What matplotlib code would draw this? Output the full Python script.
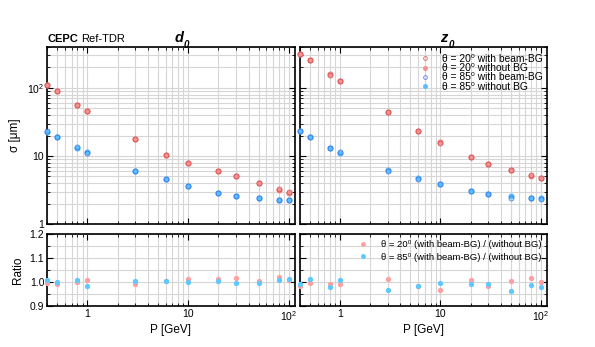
import numpy as np
import matplotlib
matplotlib.use('Agg')
import matplotlib.pyplot as plt
from matplotlib.ticker import FixedLocator, FixedFormatter, NullFormatter, LogLocator, MultipleLocator

# momentum points [GeV]
p = [0.4, 0.5, 0.8, 1, 3, 6, 10, 20, 30, 50, 80, 100]

# d0 resolution [um]
d0_20_bg = [110, 89, 56, 46, 17.6, 10.5, 7.9, 6.1, 5.1, 4.0, 3.26, 2.91]
d0_20_nobg = [110, 89.5, 56, 45.5, 17.7, 10.45, 7.8, 6.0, 5.0, 3.98, 3.2, 2.89]
d0_85_bg = [23, 19.2, 13.4, 11.2, 6.07, 4.6, 3.64, 2.85, 2.55, 2.38, 2.28, 2.25]
d0_85_nobg = [22.8, 19.2, 13.3, 11.4, 6.05, 4.58, 3.64, 2.84, 2.56, 2.39, 2.26, 2.22]

# z0 resolution [um]
z0_20_bg = [314, 255, 157, 126, 44.9, 23, 15.4, 9.7, 7.5, 6.2, 5.2, 4.75]
z0_20_nobg = [320, 256, 158, 127, 44.3, 23.4, 15.9, 9.6, 7.6, 6.17, 5.12, 4.75]
z0_85_bg = [23.3, 19.2, 12.9, 11.3, 6.0, 4.6, 3.85, 3.04, 2.75, 2.45, 2.4, 2.33]
z0_85_nobg = [23.5, 18.95, 13.2, 11.2, 6.2, 4.68, 3.86, 3.07, 2.78, 2.55, 2.43, 2.38]

# ratios (with beam-BG) / (without BG)
d0_ratio_20 = [0.995, 0.992, 0.999, 1.010, 0.992, 1.004, 1.011, 1.013, 1.017, 1.004, 1.021, 1.008]
d0_ratio_85 = [1.007, 1.001, 1.007, 0.983, 1.003, 1.004, 0.999, 1.003, 0.995, 0.996, 1.007, 1.014]
z0_ratio_20 = [0.983, 0.996, 0.992, 0.990, 1.013, 0.982, 0.967, 1.008, 0.982, 1.005, 1.015, 1.001]
z0_ratio_85 = [0.990, 1.013, 0.978, 1.007, 0.967, 0.982, 0.997, 0.990, 0.990, 0.962, 0.987, 0.980]

plt.rcParams['font.family'] = ['Liberation Sans', 'DejaVu Sans']
plt.rcParams['mathtext.fontset'] = 'custom'
plt.rcParams['mathtext.rm'] = 'Liberation Sans'
plt.rcParams['mathtext.it'] = 'Liberation Sans:italic'
plt.rcParams['mathtext.bf'] = 'Liberation Sans:bold'

fig = plt.figure(figsize=(5.95, 3.47), dpi=100)

W = 595.0
H = 347.0
def ax_at(x0, y0, x1, y1):
    return fig.add_axes([x0 / W, 1 - y1 / H, (x1 - x0) / W, (y1 - y0) / H])

ax_d0 = ax_at(47, 47, 295, 224)
ax_z0 = ax_at(300, 47, 547, 224)
ax_d0r = ax_at(47, 234, 295, 306)
ax_z0r = ax_at(300, 234, 547, 306)

red_edge = '#cc3a3a'
red_fill = '#f39090'
blue_edge = '#2a62e0'
blue_fill = '#5cbcff'
r_red = '#ffa0a0'
r_blue = '#5fc8ff'

xlim = (0.4, 115)
grid_kw = dict(color='#d6d6d6', linewidth=0.8)

def style_axes(ax, logy):
    ax.set_xscale('log')
    ax.set_xlim(*xlim)
    if logy:
        ax.set_yscale('log')
        ax.set_ylim(1, 400)
        ax.yaxis.set_major_locator(FixedLocator([1, 10, 100]))
        ax.yaxis.set_minor_locator(LogLocator(base=10, subs=np.arange(2, 10)))
        ax.yaxis.set_minor_formatter(NullFormatter())
    else:
        ax.set_ylim(0.9, 1.2)
        ax.yaxis.set_major_locator(MultipleLocator(0.1))
        ax.yaxis.set_minor_locator(MultipleLocator(0.05))
    ax.xaxis.set_major_locator(FixedLocator([1, 10, 100]))
    ax.xaxis.set_minor_locator(LogLocator(base=10, subs=np.arange(2, 10)))
    ax.xaxis.set_minor_formatter(NullFormatter())
    ax.grid(True, which='both', **grid_kw)
    ax.set_axisbelow(True)
    ax.tick_params(which='both', direction='in', top=True, right=True, labelsize=7.5, pad=2)
    ax.tick_params(which='major', length=4, width=0.8)
    ax.tick_params(which='minor', length=2.5, width=0.6)
    for s in ax.spines.values():
        s.set_linewidth(1.2)

for ax in (ax_d0, ax_z0):
    style_axes(ax, True)
for ax in (ax_d0r, ax_z0r):
    style_axes(ax, False)

# top panels
def draw_sigma(ax, s20bg, s20nobg, s85bg, s85nobg):
    ax.plot(p, s20nobg, 'o', ms=3.4, color=red_fill, mec=red_fill, ls='none',
            clip_on=False, zorder=3, label='θ = 20⁰ without BG')
    ax.plot(p, s20bg, 'o', ms=3.6, mfc='none', mec=red_edge, mew=0.6, ls='none',
            alpha=0.8, clip_on=False, zorder=4, label='θ = 20⁰ with beam-BG')
    ax.plot(p, s85nobg, 'o', ms=3.4, color=blue_fill, mec=blue_fill, ls='none',
            clip_on=False, zorder=3, label='θ = 85⁰ without BG')
    ax.plot(p, s85bg, 'o', ms=3.6, mfc='none', mec=blue_edge, mew=0.6, ls='none',
            alpha=0.8, clip_on=False, zorder=4, label='θ = 85⁰ with beam-BG')

draw_sigma(ax_d0, d0_20_bg, d0_20_nobg, d0_85_bg, d0_85_nobg)
draw_sigma(ax_z0, z0_20_bg, z0_20_nobg, z0_85_bg, z0_85_nobg)

# ratio panels
for ax, r20, r85 in ((ax_d0r, d0_ratio_20, d0_ratio_85), (ax_z0r, z0_ratio_20, z0_ratio_85)):
    ax.plot(p, r20, 'o', ms=2.8, color=r_red, ls='none', clip_on=False, zorder=3,
            label='θ = 20⁰ (with beam-BG) / (without BG)')
    ax.plot(p, r85, 'o', ms=2.8, color=r_blue, ls='none', clip_on=False, zorder=3,
            label='θ = 85⁰ (with beam-BG) / (without BG)')

# tick labels
ax_d0.yaxis.set_major_formatter(FixedFormatter(['1', '10', '$10^{2}$']))
ax_z0.set_yticklabels([])
ax_d0.set_xticklabels([])
ax_z0.set_xticklabels([])
ax_d0r.xaxis.set_major_formatter(FixedFormatter(['1', '10', '$10^{2}$']))
ax_z0r.xaxis.set_major_formatter(FixedFormatter(['1', '10', '$10^{2}$']))
ax_d0r.set_yticks([0.9, 1.0, 1.1, 1.2])
ax_d0r.set_yticklabels(['0.9', '1.0', '1.1', '1.2'])
ax_z0r.set_yticklabels([])

ax_d0.set_ylabel('σ [μm]', fontsize=8.5, labelpad=4)
ax_d0r.set_ylabel('Ratio', fontsize=8.5, labelpad=4)
ax_d0r.set_xlabel('P [GeV]', fontsize=8.5, labelpad=1)
ax_z0r.set_xlabel('P [GeV]', fontsize=8.5, labelpad=1)

# legends
h, l = ax_z0.get_legend_handles_labels()
order = [1, 0, 3, 2]
ax_z0.legend([h[i] for i in order], [l[i] for i in order], loc='upper left',
             bbox_to_anchor=(0.476, 0.972), fontsize=7.4, frameon=False, markerscale=0.75,
             handlelength=1.0, handletextpad=1.14, labelspacing=-0.08, borderpad=0.2,
             borderaxespad=0)
ax_z0r.legend(loc='upper left', bbox_to_anchor=(0.228, 0.94), fontsize=6.8, frameon=False,
              markerscale=0.9, handlelength=1.0, handletextpad=1.41, labelspacing=0.35,
              borderpad=0.2, borderaxespad=0)

# titles
fig.text(47 / W, 1 - 42 / H, 'CEPC', fontsize=8, fontweight='bold', va='baseline')
fig.text(81 / W, 1 - 42 / H, 'Ref-TDR', fontsize=8, va='baseline')
fig.text(179 / W, 1 - 42 / H, 'd', fontsize=10.5, fontweight='bold', fontstyle='italic',
         va='baseline', ha='center')
fig.text(184 / W, 1 - 39.5 / H, '0', fontsize=7, fontweight='bold', fontstyle='italic', va='top')
fig.text(444 / W, 1 - 42 / H, 'z', fontsize=10.5, fontweight='bold', fontstyle='italic',
         va='baseline', ha='center')
fig.text(449 / W, 1 - 39.5 / H, '0', fontsize=7, fontweight='bold', fontstyle='italic', va='top')

fig.savefig('out.png', dpi=100)
